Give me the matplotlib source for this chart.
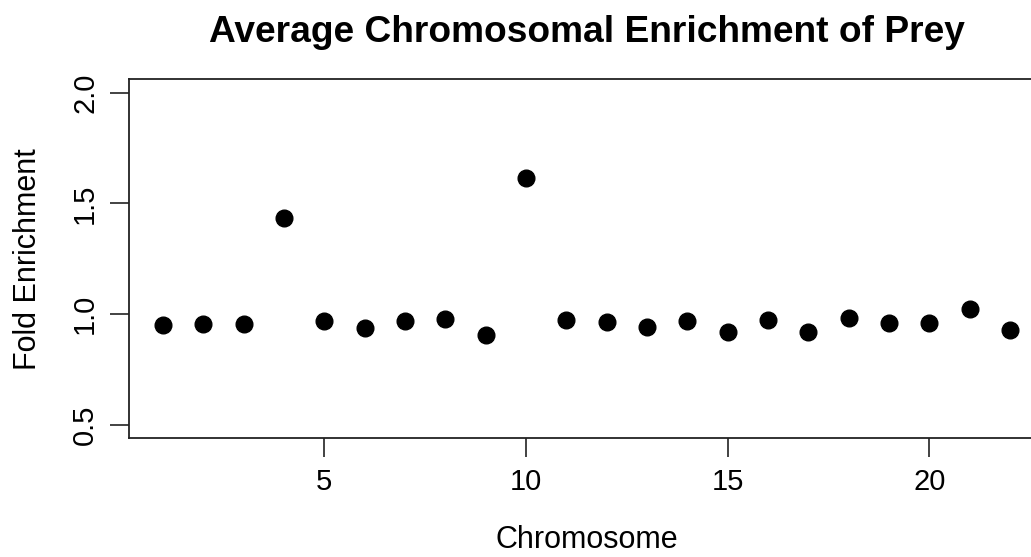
import matplotlib
matplotlib.use('Agg')
import matplotlib.pyplot as plt

# average fold enrichment per chromosome
chromosomes = list(range(1, 23))
enrichment = [0.950, 0.955, 0.955, 1.435, 0.967, 0.937, 0.967, 0.977, 0.904, 1.616, 0.971,
              0.965, 0.943, 0.967, 0.920, 0.971, 0.920, 0.983, 0.961, 0.961, 1.024, 0.926]
x_ticks = [5, 10, 15, 20]
y_ticks = [0.5, 1.0, 1.5, 2.0]

plt.rcParams['font.family'] = ['Liberation Sans', 'DejaVu Sans']

W, H = 1031, 557
fig = plt.figure(figsize=(W / 100, H / 100), dpi=100)
# R style plot region, right edge runs past the image border
left, right, top, bottom = 129.1, 1043.8, 79.4, 437.9
ax = fig.add_axes([left / W, (H - bottom) / H, (right - left) / W, (bottom - top) / H])

ax.plot(chromosomes, enrichment, 'o', color='black', markersize=12)

ax.set_xlim(0.16, 22.84)
ax.set_ylim(0.44, 2.06)
ax.set_xticks(x_ticks)
ax.set_yticks(y_ticks)
ax.set_yticklabels(['%.1f' % v for v in y_ticks], rotation=90, va='center')
ax.tick_params(direction='out', length=13.5, width=1.2, labelsize=21, pad=8, color='#222222')
for s in ax.spines.values():
    s.set_linewidth(1.3)
    s.set_color('#222222')

ax.set_xlabel('Chromosome', fontsize=22, va='center')
ax.xaxis.set_label_coords(0.5, -(540 - bottom) / (bottom - top))
ax.set_ylabel('Fold Enrichment', fontsize=22, va='center')
ax.yaxis.set_label_coords(-(left - 28) / (right - left), 0.5)

fig.text(586.5 / W, 1 - 32 / H, 'Average Chromosomal Enrichment of Prey', fontsize=26.7,
         fontweight='bold', ha='center', va='center')

fig.savefig('out.png', dpi=100)
